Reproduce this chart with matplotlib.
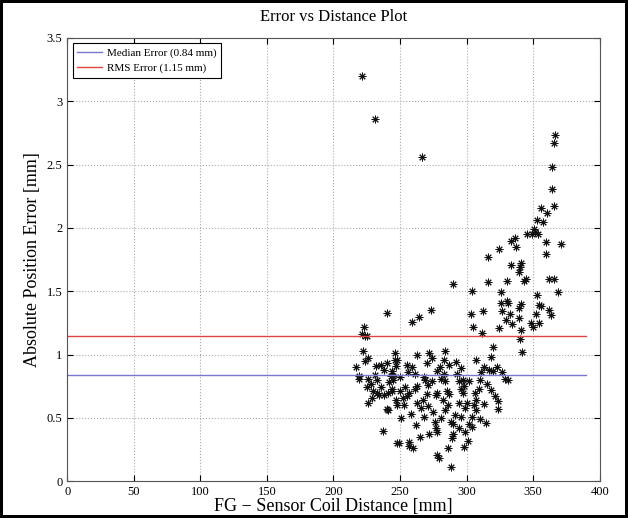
import numpy as np
import matplotlib.pyplot as plt

plt.rcParams['font.family'] = ['Liberation Serif', 'DejaVu Serif']

# Data
dist = [
    221.4, 231.1, 266.4,
    366.7, 365.3, 364.2, 364.2, 365.3, 356.2, 360.2, 352.7, 357.2, 350.7, 351.2,
    345.2, 349.2, 353.7, 333.2, 336.2, 324.7, 337.2, 359.7, 370.7, 316.2, 359.7,
    333.2, 340.7, 340.2, 339.7, 344.7, 343.2, 361.7, 365.7, 316.2, 330.7, 303.7,
    326.2, 368.7, 352.7, 325.7, 330.7, 341.2, 354.2, 355.7, 303.2, 312.2, 326.7,
    332.7, 339.2, 352.2, 361.7, 363.7,
    331.0, 339.2, 329.7, 324.7, 334.2, 348.7, 349.7, 354.2, 304.7, 340.7, 311.2,
    340.2, 319.7, 341.7, 307.2, 318.2, 312.7, 316.7, 319.7, 323.2, 326.7, 329.2,
    331.2, 309.7, 309.2, 318.2, 321.7, 323.7, 323.7, 306.7, 313.2, 305.7, 307.2,
    304.2, 310.2, 314.2, 304.2,
    259, 283.5, 263, 272, 274, 246, 283, 255, 270, 292, 296, 278, 283, 261, 244,
    245, 250, 268, 281, 269, 284, 294, 297, 296, 298, 302, 254, 261, 263, 244,
    250, 257, 270, 277, 278, 285, 287, 297, 294, 282, 263, 253, 248, 258, 268,
    281, 277, 288, 290, 294, 290, 265, 272, 278, 286, 298, 249, 257, 260, 257,
    278, 279, 288, 301, 299, 302,
    223, 221.5, 224, 225.5, 222, 224, 226, 217, 219, 219, 226, 231, 233, 225,
    228, 230, 233, 234, 236, 238, 241, 244, 245, 243, 240, 232, 236, 247, 248,
    246, 226, 237, 240, 241, 248,
    240, 264, 290, 273,
    252, 266, 275, 286, 291, 299, 256, 271, 280, 293, 247, 262, 276, 289, 300,
    251, 267, 284, 296, 242, 259, 274, 306, 315, 238, 229, 311, 287, 271, 255,
]
err = [
    3.20, 2.86, 2.56,
    2.73, 2.67, 2.48, 2.31, 2.17, 2.16, 2.12, 2.06, 2.05, 1.99, 1.97,
    1.95, 1.95, 1.95, 1.90, 1.92, 1.83, 1.85, 1.89, 1.87, 1.77, 1.79,
    1.71, 1.72, 1.69, 1.65, 1.60, 1.58, 1.60, 1.60, 1.57, 1.58, 1.50,
    1.49, 1.49, 1.47, 1.41, 1.42, 1.40, 1.39, 1.38, 1.32, 1.34, 1.34,
    1.32, 1.29, 1.32, 1.35, 1.31,
    1.41, 1.37, 1.27, 1.21, 1.24, 1.25, 1.22, 1.25, 1.22, 1.19, 1.17,
    1.12, 1.06, 1.02, 0.96, 0.98, 0.90, 0.88, 0.87, 0.90, 0.86, 0.81,
    0.80, 0.80, 0.73, 0.72, 0.67, 0.63, 0.57, 0.64, 0.61, 0.60, 0.56,
    0.51, 0.49, 0.46, 0.43,
    1.26, 1.03, 1.00, 1.01, 0.97, 0.96, 0.96, 0.92, 0.93, 0.94, 0.89, 0.87, 0.85, 0.85, 0.87,
    0.83, 0.82, 0.82, 0.81, 0.80, 0.79, 0.79, 0.80, 0.73, 0.75, 0.79, 0.74, 0.73, 0.75, 0.73,
    0.71, 0.70, 0.69, 0.68, 0.70, 0.71, 0.69, 0.70, 0.62, 0.64, 0.62, 0.60, 0.60, 0.53, 0.51,
    0.50, 0.42, 0.47, 0.45, 0.42, 0.37, 0.35, 0.37, 0.39, 0.26, 0.27, 0.30, 0.28, 0.26, 0.31,
    0.21, 0.18, 0.11, 0.32, 0.39, 0.45,
    1.22, 1.16, 1.15, 1.15, 1.03, 0.95, 0.97, 0.90, 0.81, 0.83, 0.81, 0.84, 0.80, 0.74,
    0.77, 0.71, 0.70, 0.68, 0.74, 0.68, 0.70, 0.71, 0.80, 0.83, 0.93, 0.91, 0.92, 0.91, 0.96,
    1.01, 0.62, 0.40, 0.57, 0.56, 0.30,
    1.33, 1.30, 1.56, 1.35,
    0.66, 0.58, 0.55, 0.60, 0.52, 0.58, 0.86, 0.76, 0.90, 0.85, 0.64, 0.44, 0.47, 0.34, 0.62,
    0.50, 0.64, 0.56, 0.51, 0.78, 0.90, 0.79, 0.70, 0.77, 0.88, 0.66, 0.86, 0.92, 0.59, 0.67,
]
median_err = 0.84
rms_err = 1.15
line_x = [0, 390]

fig = plt.figure(figsize=(6.28, 5.18), dpi=100)
fig.patch.set_edgecolor('black')
fig.patch.set_linewidth(3)
ax = fig.add_axes([0.107, 0.071, 0.848, 0.856])

ax.plot(dist, err, ls='none', marker=(8, 2, 0), color='#111111', ms=5.5, mew=0.7)
ax.plot(line_x, [median_err] * 2, color='#7777cc', lw=1, label='Median Error (0.84 mm)')
ax.plot(line_x, [rms_err] * 2, color='#dd4444', lw=1, label='RMS Error (1.15 mm)')

ax.set_xlim(0, 400)
ax.set_ylim(0, 3.5)
ax.set_xticks(np.arange(0, 401, 50))
ax.set_yticks(np.arange(0, 3.51, 0.5))
ax.set_yticklabels(['0', '0.5', '1', '1.5', '2', '2.5', '3', '3.5'])
ax.tick_params(direction='in', labelsize=9, length=4, top=True, right=True)
ax.grid(True, ls=':', color='#aaaaaa', lw=0.8)
for s in ax.spines.values():
    s.set_color('#555555')

ax.set_title('Error vs Distance Plot', fontsize=12, pad=12)
ax.set_xlabel('FG \u2212 Sensor Coil Distance [mm]', fontsize=13, labelpad=0)
ax.set_ylabel('Absolute Position Error [mm]', fontsize=13, labelpad=4)

leg = ax.legend(loc='upper left', fontsize=8, fancybox=False, edgecolor='black',
                framealpha=1, borderaxespad=0.5, handlelength=2.2, handletextpad=0.5)
leg.get_frame().set_linewidth(0.8)

fig.savefig('out.png', dpi=100, edgecolor=fig.get_edgecolor())
